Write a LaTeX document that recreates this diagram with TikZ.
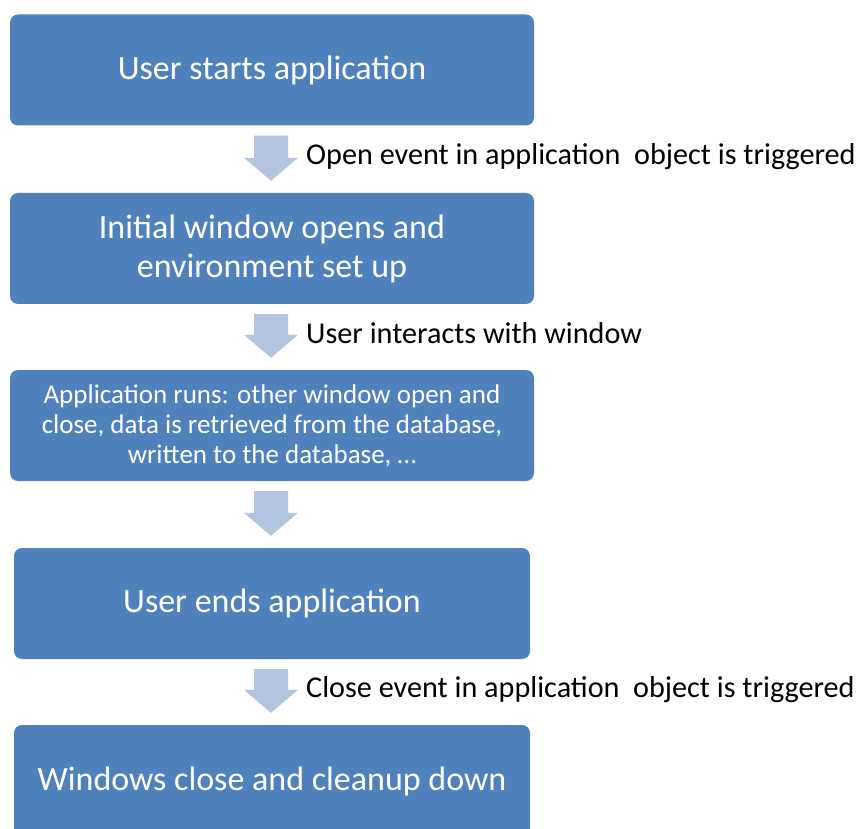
\documentclass[tikz,border=0pt]{standalone}
\usepackage{fontspec}
\setmainfont{Carlito}
\usetikzlibrary{calc}
\definecolor{boxblue}{HTML}{4F81BD}
\definecolor{arrowblue}{HTML}{B3C4E0}
\newcommand{\blkarrow}[2]{%
  \fill[arrowblue] let \p1=(#1.south), \p2=(#2.north) in
    (\x1-18pt,\y1-10pt) -- (\x1+16pt,\y1-10pt) -- (\x1+16pt,\y2+35pt) --
    (\x1+26pt,\y2+35pt) -- (\x1-1pt,\y2+12pt) -- (\x1-28pt,\y2+35pt) --
    (\x1-18pt,\y2+35pt) -- cycle;}
\begin{document}
\begin{tikzpicture}[x=1pt,y=1pt,
  flowbox/.style={fill=boxblue, draw=none, rounded corners=8pt, text=white,
    minimum height=111pt, inner sep=0pt, align=center,
    font=\fontsize{34}{39}\selectfont},
  sidelabel/.style={anchor=west, inner sep=0pt, text=black,
    font=\fontsize{30.2}{33}\selectfont}]
\useasboundingbox (0,0) rectangle (860,-829);
\clip (0,0) rectangle (860,-829);
\node[flowbox, minimum width=524pt] (b1) at (272,-70) {User starts application};
\node[flowbox, minimum width=524pt] (b2) at (272,-248.5) {Initial window opens and\\environment set up};
\node[flowbox, minimum width=524pt, font=\fontsize{27}{30}\selectfont] (b3) at (272,-425.5)
  {Application runs: other window open and\\close, data is retrieved from the database,\\written to the database, \dots};
\node[flowbox, minimum width=516pt] (b4) at (272,-603.5) {User ends application};
\node[flowbox, minimum width=516pt, minimum height=112pt] (b5) at (272,-781) {Windows close and cleanup down};
\blkarrow{b1}{b2}
\blkarrow{b2}{b3}
\blkarrow{b3}{b4}
\blkarrow{b4}{b5}
\node[sidelabel] (l1) at (306,-157) {Open event in application\ \ object is triggered};
\node[sidelabel] (l2) at (306,-333) {User interacts with window};
\node[sidelabel] (l4) at (306,-690) {Close event in application\ \ object is triggered};
\end{tikzpicture}
\end{document}
